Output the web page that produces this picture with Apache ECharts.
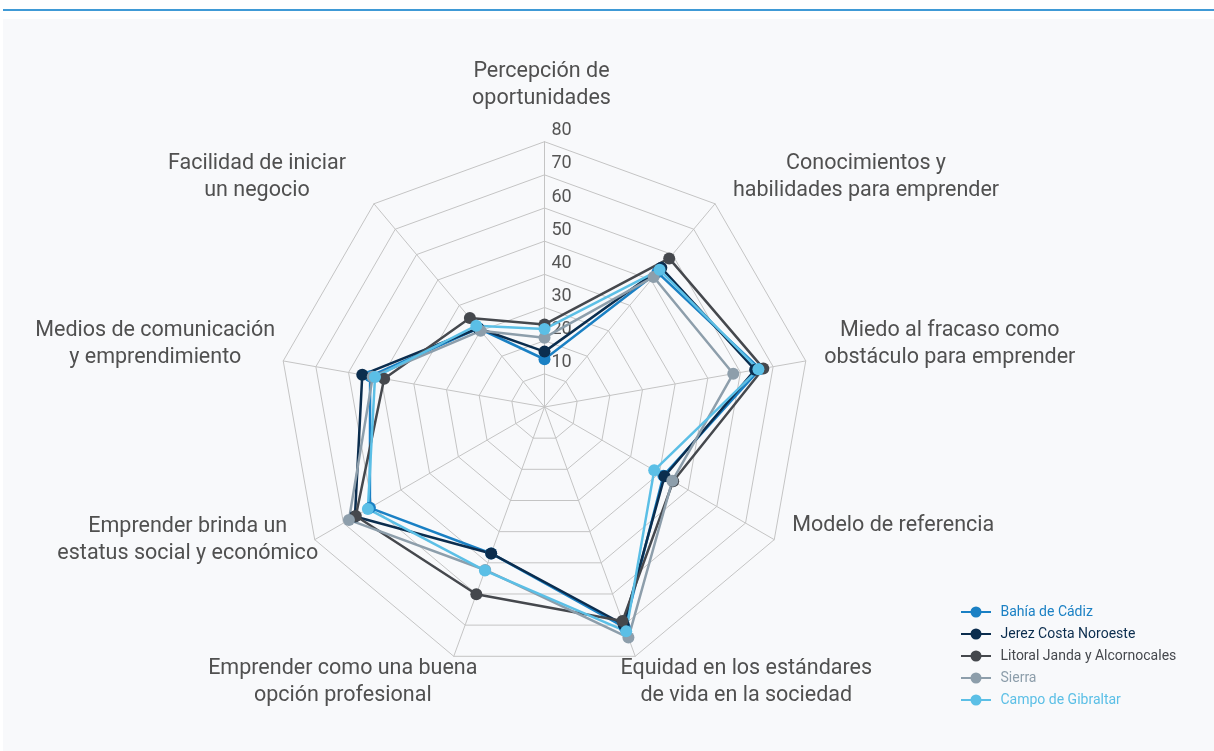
<!DOCTYPE html>
<html><head><meta charset="utf-8">
<script src="https://cdn.jsdelivr.net/npm/echarts@6/dist/echarts.min.js"></script>
<style>
html,body{margin:0;padding:0;background:#fff;width:1214px;height:751px;overflow:hidden;}
#topline{position:absolute;left:3px;top:9px;width:1211px;height:2px;background:#3f9ad6;}
#bg{position:absolute;left:3px;top:19px;width:1211px;height:732px;background:#f8f9fb;}
#chart{position:absolute;left:0;top:0;width:1214px;height:751px;}
</style></head>
<body>
<div id="topline"></div><div id="bg"></div><div id="chart"></div>
<script>
// Indicators in clockwise order starting from the top
const indicators = [
  "Percepción de\noportunidades",
  "Conocimientos y\nhabilidades para emprender",
  "Miedo al fracaso como\nobstáculo para emprender",
  "Modelo de referencia",
  "Equidad en los estándares\nde vida en la sociedad",
  "Emprender como una buena\nopción profesional",
  "Emprender brinda un\nestatus social y económico",
  "Medios de comunicación\ny emprendimiento",
  "Facilidad de iniciar\nun negocio"
];
const seriesNames = ["Bahía de Cádiz","Jerez Costa Noroeste","Litoral Janda y Alcornocales","Sierra","Campo de Gibraltar"];
const colors = ["#1a80c4","#0b2d4e","#45484d","#8d9eab","#5bbfe6"];
const bahia   = [14.4, 53.0, 66.0, 41.4, 70.7, 47.0, 60.8, 53.4, 31.0];
const jerez   = [16.7, 54.8, 64.5, 41.8, 69.8, 47.0, 66.0, 55.8, 31.0];
const litoral = [24.9, 58.5, 67.0, 44.8, 68.7, 60.1, 65.7, 49.1, 35.0];
const sierra  = [20.9, 51.2, 57.8, 44.5, 74.0, 52.3, 68.1, 52.6, 30.0];
const campo   = [23.5, 54.0, 65.5, 38.2, 72.0, 52.5, 61.5, 51.9, 32.0];
const allData = [bahia, jerez, litoral, sierra, campo];
const maxVal = 80;

// label layout: offset of each name block centre from its axis end (px)
const nameShift = [[-3,-57],[151,-27],[144,-17],[119,-14],[111,26],[-111,26],[-127,0],[-128,-17],[-117,-27]];

// ECharts places indicators counter-clockwise; reorder to get clockwise
const order = [0, 8, 7, 6, 5, 4, 3, 2, 1];
const NAME_SIZE = 21.5;
const cv = document.createElement('canvas').getContext('2d');
cv.font = '400 ' + NAME_SIZE + 'px Roboto';
const rich = {};
indicators.forEach((n, i) => {
  const w = Math.max(...n.split('\n').map(l => cv.measureText(l).width));
  rich['n' + i] = {width: Math.ceil(w) + 2, align: 'center', fontSize: NAME_SIZE, lineHeight: 27, color: '#505050', fontFamily: 'Roboto'};
});

function namePad(k) {
  const dx = nameShift[k][0], dy = nameShift[k][1];
  return [dy > 0 ? 2 * dy : 0, dx < 0 ? -2 * dx : 0, dy < 0 ? -2 * dy : 0, dx > 0 ? 2 * dx : 0];
}

const chart = echarts.init(document.getElementById('chart'), null, {renderer: 'canvas'});
chart.setOption({
  animation: false,
  legend: {
    orient: 'vertical', left: 956, top: 600,
    itemWidth: 31, itemHeight: 11, itemGap: 8,
    icon: 'path://M0,6H30V8H0Z M9.5,7A5.5,5.5 0 1 1 20.5,7A5.5,5.5 0 1 1 9.5,7Z',
    textStyle: {fontSize: 14, fontFamily: 'Roboto', padding: [0, 0, 0, 4]},
    data: seriesNames.map((n, i) => ({name: n, textStyle: {color: colors[i]}}))
  },
  radar: {
    center: [544.5, 407],
    radius: 265.3,
    startAngle: 90,
    splitNumber: 8,
    nameGap: 0,
    axisName: {
      color: '#505050', fontSize: NAME_SIZE, fontFamily: 'Roboto',
      formatter: function (name) {
        const i = indicators.indexOf(name);
        return name.split('\n').map(l => '{n' + i + '|' + l + '}').join('\n');
      },
      rich: rich
    },
    splitLine: {lineStyle: {color: '#c4c4c4', width: 1}},
    axisLine: {lineStyle: {color: '#c4c4c4', width: 1}},
    splitArea: {show: false},
    axisTick: {show: false},
    axisLabel: {show: false},
    indicator: order.map((k, j) => {
      const ind = {name: indicators[k], min: 0, max: maxVal,
        nameTextStyle: {align: 'center', verticalAlign: 'middle', padding: namePad(k)}};
      if (j === 0) ind.axisLabel = {show: true, color: '#555', fontSize: 18, fontFamily: 'Roboto',
        align: 'left', verticalAlign: 'bottom', lineHeight: 22, margin: -7,
        formatter: v => v === 0 ? '' : v};
      return ind;
    })
  },
  series: [{
    type: 'radar',
    symbol: 'circle', symbolSize: 12,
    data: allData.map((arr, i) => ({
      name: seriesNames[i],
      value: order.map(k => arr[k]),
      itemStyle: {color: colors[i]},
      lineStyle: {color: colors[i], width: 2.5}
    }))
  }]
});
</script>
</body></html>
